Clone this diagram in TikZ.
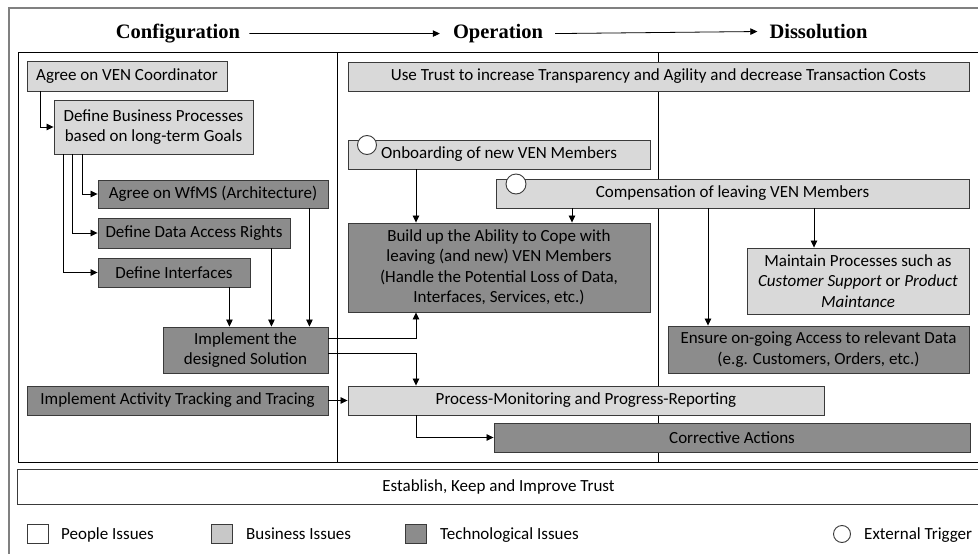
\documentclass[tikz,border=0pt]{standalone}
\usepackage{fontspec}
\setmainfont{Carlito}
\newfontfamily\hdrfont{Liberation Serif}
\usetikzlibrary{arrows.meta,calc}
\definecolor{lightbox}{HTML}{D9D9D9}
\definecolor{darkbox}{HTML}{8C8C8C}
\definecolor{legendlight}{HTML}{C8C8C8}
\definecolor{framegray}{HTML}{808080}
\definecolor{edgec}{HTML}{3A3A3A}
\begin{document}
\begin{tikzpicture}[x=1pt,y=-1pt,
  box/.style={draw=edgec, line width=0.9pt, inner sep=0pt, align=center,
    font=\fontsize{17}{20.5}\selectfont, text=black},
  bbox/.style={box, fill=lightbox},
  tbox/.style={box, fill=darkbox},
  arr/.style={draw=black, line width=0.8pt, -{Triangle[length=7pt,width=6.5pt]}},
  trig/.style={circle, draw=edgec, fill=white, line width=0.9pt, inner sep=0pt},
  hdr/.style={font=\hdrfont\bfseries\fontsize{20.5}{24}\selectfont, inner sep=0pt, anchor=base},
  lgtxt/.style={anchor=base west, inner sep=0pt, font=\fontsize{17}{20}\selectfont},
  lgbox/.style={draw=edgec, line width=0.9pt, minimum width=21pt, minimum height=19pt, inner sep=0pt}
]
\useasboundingbox (0,0) rectangle (978,554);
\fill[white] (0,0) rectangle (978,554);

% frames
\draw[framegray, line width=1.5pt] (9,570) -- (9,8) -- (1000,8);
\draw[black, line width=0.9pt] (18,52) rectangle (980,462);
\draw[black, line width=0.9pt] (337.5,52) -- (337.5,462);
\draw[black, line width=0.9pt] (658,52) -- (658,462);

% headers
\node[hdr] (hc) at (178,38.5) {Configuration};
\node[hdr] (ho) at (498,38.5) {Operation};
\node[hdr] (hd) at (818.5,38.5) {Dissolution};
\draw[arr] ($(hc.east)+(9,0)$) -- ($(ho.west)+(-13,0)$);
\draw[arr] ($(ho.east)+(12,0)$) -- ($(hd.west)+(-12,0)$);

% configuration column
\node[bbox, minimum width=200pt, minimum height=30pt] (vc) at (127,76) {Agree on VEN Coordinator};
\node[bbox, minimum width=199pt, minimum height=54pt] (bp) at (153.5,127) {Define Business Processes\\based on long-term Goals};
\node[tbox, minimum width=230pt, minimum height=28pt] (wf) at (213,194) {Agree on WfMS (Architecture)};
\node[tbox, minimum width=192pt, minimum height=30pt] (da) at (194,233) {Define Data Access Rights};
\node[tbox, minimum width=152pt, minimum height=29pt] (di) at (174,272.5) {Define Interfaces};
\node[tbox, minimum width=165pt, minimum height=46pt] (impl) at (245.5,350) {Implement the\\designed Solution};
\node[tbox, minimum width=301pt, minimum height=29pt] (at) at (177.5,400.5) {Implement Activity Tracking and Tracing};

% operation / dissolution
\node[bbox, minimum width=621pt, minimum height=29pt] (ut) at (658.5,76.5) {Use Trust to increase Transparency and Agility and decrease Transaction Costs};
\node[bbox, minimum width=302pt, minimum height=29pt] (ob) at (499,154.5) {Onboarding of new VEN Members};
\node[bbox, minimum width=473pt, minimum height=29pt] (cp) at (732.5,193.5) {Compensation of leaving VEN Members};
\node[tbox, minimum width=302pt, minimum height=89pt] (bu) at (499,267.5) {Build up the Ability to Cope with\\leaving (and new) VEN Members\\(Handle the Potential Loss of Data,\\Interfaces, Services, etc.)};
\node[bbox, minimum width=222pt, minimum height=66pt] (mp) at (858,281) {Maintain Processes such as\\\textit{Customer Support} or \textit{Product}\\\textit{Maintance}};
\node[tbox, minimum width=301pt, minimum height=47pt] (en) at (818.5,349.5) {Ensure on-going Access to relevant Data\\(e.g. Customers, Orders, etc.)};
\node[bbox, minimum width=476pt, minimum height=29pt] (pm) at (586,400.5) {Process-Monitoring and Progress-Reporting};
\node[tbox, minimum width=476pt, minimum height=29pt] (ca) at (732,437.5) {Corrective Actions};
\node[box, fill=white, minimum width=963pt, minimum height=35pt] (est) at (498.5,486.5) {Establish, Keep and Improve Trust};

% triggers
\node[trig, minimum size=19pt] (tr1) at (367,145) {};
\node[trig, minimum size=20pt] (tr2) at (516,184) {};

% connectors
\draw[arr] ($(vc.south west)+(14,0)$) |- (bp.west);
\draw[arr] ($(bp.south west)+(29,0)$) |- (wf.west);
\draw[arr] ($(bp.south west)+(19,0)$) |- (da.west);
\draw[arr] ($(bp.south west)+(10,0)$) |- (di.west);
\draw[arr] ([xshift=-19pt]wf.south east) -- ([xshift=-19pt]wf.south east |- impl.north);
\draw[arr] ([xshift=-19pt]da.south east) -- ([xshift=-19pt]da.south east |- impl.north);
\draw[arr] ([xshift=-21pt]di.south east) -- ([xshift=-21pt]di.south east |- impl.north);
\draw[arr] ([yshift=12pt]impl.east) -| ([xshift=-83pt]bu.south);
\draw[arr] ([yshift=-3pt]impl.east) -| ([xshift=-170pt]pm.north);
\draw[arr] (at.east) -- (pm.west);
\draw[arr] ([xshift=-170pt]pm.south) |- (ca.west);
\draw[arr] ([xshift=-83pt]ob.south) -- ([xshift=-83pt]bu.north);
\draw[arr] ([xshift=73pt]bu.north |- cp.south) -- ([xshift=73pt]bu.north);
\draw[arr] ([xshift=-44pt]mp.north |- cp.south) -- ([xshift=-44pt]mp.north);
\draw[arr] ([xshift=-110.5pt]en.north |- cp.south) -- ([xshift=-110.5pt]en.north);

% legend
\node[lgbox, fill=white] (lp) at (37.5,533.5) {};
\node[lgtxt] (lpt) at (61,539.5) {People Issues};
\node[lgbox, fill=legendlight] (lb) at (222,533.5) {};
\node[lgtxt] (lbt) at (246,539.5) {Business Issues};
\node[lgbox, fill=darkbox] (lt) at (416,533.5) {};
\node[lgtxt] (ltt) at (440,539.5) {Technological Issues};
\node[trig, minimum size=17pt] (le) at (842,534) {};
\node[lgtxt] (let) at (864,539.5) {External Trigger};
\end{tikzpicture}
\end{document}
